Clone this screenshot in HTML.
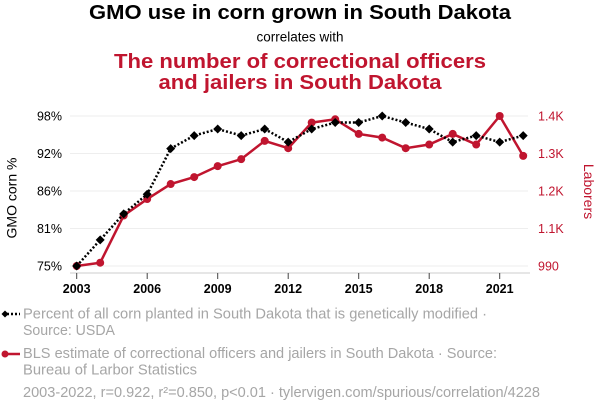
<!DOCTYPE html>
<html><head><meta charset="utf-8"><style>
body{margin:0;width:600px;height:414px;background:#fff;overflow:hidden}
svg{font-family:"Liberation Sans",Arial,sans-serif}
</style></head><body>
<svg id="chart" width="600" height="414" viewBox="0 0 600 414">
<text x="300" y="19" text-anchor="middle" font-size="20.5" font-weight="bold" fill="#000" textLength="422" lengthAdjust="spacingAndGlyphs">GMO use in corn grown in South Dakota</text>
<text x="300" y="41.5" text-anchor="middle" font-size="13.5" fill="#000">correlates with</text>
<text x="300" y="68" text-anchor="middle" font-size="20.5" font-weight="bold" fill="#c0152f" textLength="372" lengthAdjust="spacingAndGlyphs">The number of correctional officers</text>
<text x="300" y="89" text-anchor="middle" font-size="20.5" font-weight="bold" fill="#c0152f" textLength="283" lengthAdjust="spacingAndGlyphs">and jailers in South Dakota</text>
<g id="grid"></g>
<g id="axes"></g>
<g id="series"></g>
<text transform="translate(16.5,198) rotate(-90)" text-anchor="middle" font-size="14" fill="#000">GMO corn %</text>
<text transform="translate(584,191.5) rotate(90)" text-anchor="middle" font-size="14" fill="#c0152f">Laborers</text>
<g>
<line x1="3" y1="314" x2="20" y2="314" stroke="#000" stroke-width="2.5" stroke-dasharray="2,2"/>
<path d="M5 310.5 L8.5 314 L5 317.5 L1.5 314Z" fill="#000"/>
<text x="23" y="318.5" font-size="14.5" fill="#a6a6a6" textLength="464" lengthAdjust="spacingAndGlyphs">Percent of all corn planted in South Dakota that is genetically modified ·</text>
<text x="23" y="335" font-size="14.5" fill="#a6a6a6" textLength="92" lengthAdjust="spacingAndGlyphs">Source: USDA</text>
</g>
<g>
<line x1="4" y1="354" x2="20" y2="354" stroke="#c0152f" stroke-width="2.5"/>
<circle cx="5" cy="354" r="3.5" fill="#c0152f"/>
<text x="23" y="358" font-size="14.5" fill="#a6a6a6" textLength="474" lengthAdjust="spacingAndGlyphs">BLS estimate of correctional officers and jailers in South Dakota · Source:</text>
<text x="23" y="374.5" font-size="14.5" fill="#a6a6a6" textLength="174" lengthAdjust="spacingAndGlyphs">Bureau of Larbor Statistics</text>
</g>
<text x="23" y="397" font-size="14.5" fill="#a6a6a6" textLength="517" lengthAdjust="spacingAndGlyphs">2003-2022, r=0.922, r²=0.850, p&lt;0.01 · tylervigen.com/spurious/correlation/4228</text>
</svg>
<script>
const years=[2003,2004,2005,2006,2007,2008,2009,2010,2011,2012,2013,2014,2015,2016,2017,2018,2019,2020,2021,2022];
const gmo=[75,79,83,86,93,95,96,95,96,94,96,97,97,98,97,96,94,95,94,95];
const laborers=[990,999,1128,1173,1214,1233,1263,1282,1332,1312,1382,1391,1351,1341,1312,1322,1351,1322,1400,1291];
const xTicks=[2003,2006,2009,2012,2015,2018,2021];
const leftTickLabels=["75%","81%","86%","92%","98%"];
const rightTickLabels=["990","1.1K","1.2K","1.3K","1.4K"];
const ns="http://www.w3.org/2000/svg";
const X0=76.7,XS=23.5,YB=266,YT=116;
const x=y=>X0+(y-2003)*XS;
const yL=v=>YB-(v-75)/(98-75)*(YB-YT);
const yR=v=>YB-(v-990)/(1400-990)*(YB-YT);
function mk(tag,attrs,parent){const e=document.createElementNS(ns,tag);for(const k in attrs)e.setAttribute(k,attrs[k]);parent.appendChild(e);return e;}
const grid=document.getElementById('grid'),axes=document.getElementById('axes'),ser=document.getElementById('series');
leftTickLabels.forEach((t,i)=>{
 const yy=YB-i*(YB-YT)/4;
 const g=mk('line',{x1:70,x2:528,y1:yy,y2:yy,stroke:'#eee','stroke-width':1},grid);
 
 
 const a=mk('text',{x:62,y:yy+4.5,'text-anchor':'end','font-size':12.5,fill:'#000'},axes);a.textContent=t;
 
 
 const b=mk('text',{x:538,y:yy+4.5,'font-size':12.5,fill:'#c0152f'},axes);b.textContent=rightTickLabels[i];
 
 
});
mk('line',{x1:70,x2:530,y1:273,y2:273,stroke:'#ccc','stroke-width':1},axes);
xTicks.forEach(t=>{
 mk('line',{x1:x(t),x2:x(t),y1:273,y2:279,stroke:'#444','stroke-width':1},axes);
 const l=mk('text',{x:x(t),y:293,'text-anchor':'middle','font-size':12.5,'font-weight':'bold',fill:'#000'},axes);l.textContent=t;
 
 
});
const rp=mk('polyline',{points:years.map((yr,i)=>x(yr)+','+yR(laborers[i])).join(' '),fill:'none',stroke:'#c0152f','stroke-width':2.5},ser);


years.forEach((yr,i)=>{const c=mk('circle',{cx:x(yr),cy:yR(laborers[i]),r:4,fill:'#c0152f'},ser);
 
 });
const gp=mk('polyline',{points:years.map((yr,i)=>x(yr)+','+yL(gmo[i])).join(' '),fill:'none',stroke:'#000','stroke-width':2.5,'stroke-dasharray':'2,2'},ser);


years.forEach((yr,i)=>{const cx=x(yr),cy=yL(gmo[i]);const p=mk('path',{d:`M${cx} ${cy-4.5}L${cx+4.5} ${cy}L${cx} ${cy+4.5}L${cx-4.5} ${cy}Z`,fill:'#000'},ser);
 
 });
</script>
</body></html>
